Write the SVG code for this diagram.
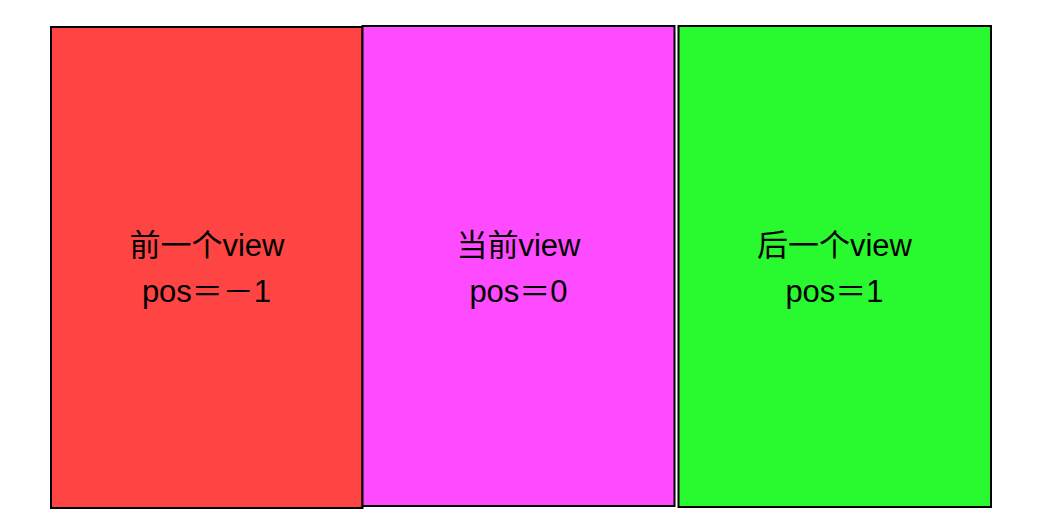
<svg xmlns="http://www.w3.org/2000/svg" width="1048" height="528" viewBox="0 0 1048 528">
<style>
.box{stroke:#000;stroke-width:2}
.t{font-family:"Liberation Sans","Noto Sans CJK SC",sans-serif;font-size:31px;fill:#000;text-anchor:middle}
</style>
<rect width="1048" height="528" fill="#fff"/>
<g id="connectors"/>
<g id="prev">
<rect class="box" x="51" y="27" width="311.5" height="481" fill="#ff4444"/>
<text class="t" x="207" y="256">前一个view</text>
<text class="t" x="206.5" y="302">pos＝－1</text>
</g>
<g id="current">
<rect class="box" x="362.5" y="26" width="312" height="480" fill="#ff4bff"/>
<text class="t" x="518.5" y="256">当前view</text>
<text class="t" x="518.5" y="302">pos＝0</text>
</g>
<g id="next">
<rect class="box" x="678.5" y="26" width="312.5" height="481" fill="#29f92f"/>
<text class="t" x="834.5" y="256">后一个view</text>
<text class="t" x="834.5" y="302">pos＝1</text>
</g>
</svg>
